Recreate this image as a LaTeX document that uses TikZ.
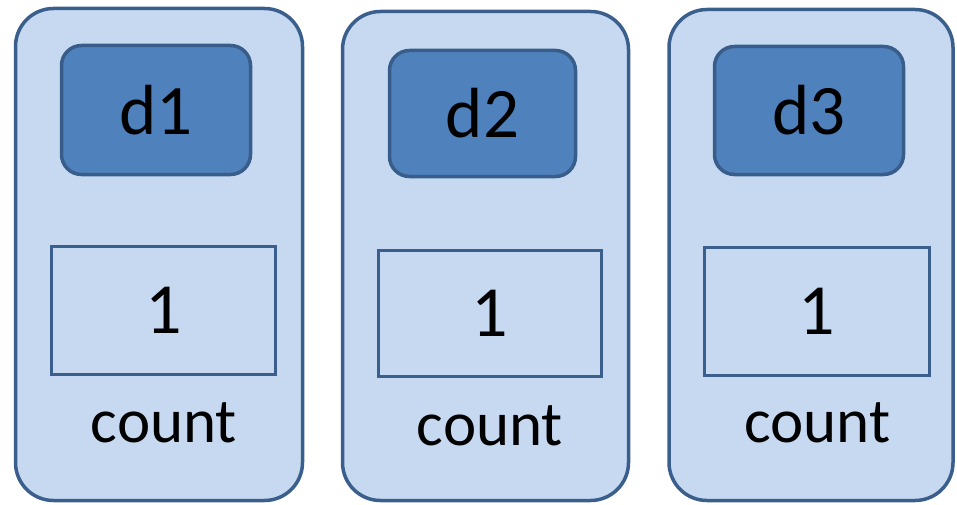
\documentclass[tikz,border=0pt]{standalone}
\usepackage{fontspec}
\setmainfont{Carlito}
\definecolor{paneFill}{HTML}{C6D9F0}
\definecolor{paneLine}{HTML}{3B5F8D}
\definecolor{keyFill}{HTML}{4F81BD}
\definecolor{keyLine}{HTML}{385D8A}
\tikzset{
  pane/.style={draw=paneLine, fill=paneFill, line width=3.5pt, rounded corners=38pt, inner sep=0pt},
  keybox/.style={draw=keyLine, fill=keyFill, line width=3.5pt, rounded corners=20pt, inner sep=0pt,
                 font=\fontsize{71}{85}\selectfont},
  valbox/.style={draw=paneLine, fill=paneFill, line width=3.5pt, inner sep=0pt,
                 font=\fontsize{72}{86}\selectfont},
  caption/.style={anchor=base, inner sep=0pt, font=\fontsize{63}{75}\selectfont}
}
\begin{document}
\begin{tikzpicture}[x=1pt, y=-1pt]
  \useasboundingbox (0,0) rectangle (957,505);

  % first column
  \node[pane, minimum width=287pt, minimum height=492pt] (p1) at (159,254.5) {};
  \node[keybox, minimum width=189pt, minimum height=129pt] (k1) at (156,110) {d1};
  \node[valbox, minimum width=224pt, minimum height=128pt] (v1) at (163.5,310.5) {1};
  \node[caption] (c1) at (164,442) {count};

  % second column
  \node[pane, minimum width=286pt, minimum height=489pt] (p2) at (485.5,256) {};
  \node[keybox, minimum width=186pt, minimum height=126pt] (k2) at (482.5,113.5) {d2};
  \node[valbox, minimum width=223pt, minimum height=126pt] (v2) at (490,313.5) {1};
  \node[caption] (c2) at (490,445) {count};

  % third column
  \node[pane, minimum width=284pt, minimum height=491pt] (p3) at (811,255) {};
  \node[keybox, minimum width=189pt, minimum height=128pt] (k3) at (809,110.5) {d3};
  \node[valbox, minimum width=225pt, minimum height=128pt] (v3) at (817,311.5) {1};
  \node[caption] (c3) at (817.5,442) {count};
\end{tikzpicture}
\end{document}
